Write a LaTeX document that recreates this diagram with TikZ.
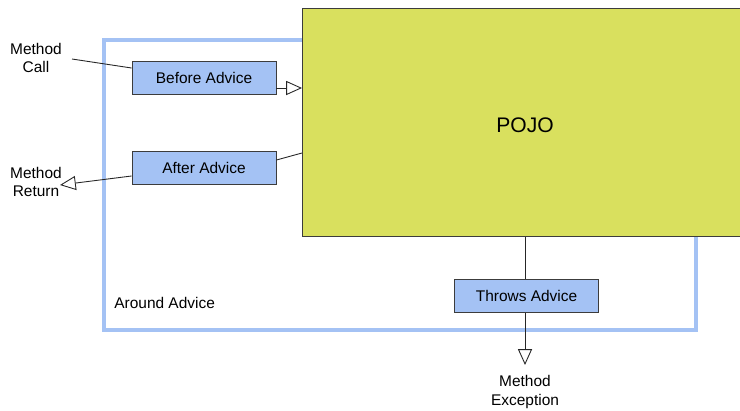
\documentclass[tikz,border=0pt]{standalone}
\usepackage{fontspec}
\setmainfont{Liberation Sans}
\usetikzlibrary{arrows.meta}
\definecolor{advblue}{RGB}{164,194,244}
\definecolor{aroundblue}{RGB}{164,194,244}
\definecolor{pojogreen}{RGB}{217,224,94}
\definecolor{edgegray}{RGB}{60,60,60}
\tikzset{
  px/.style={x=0.02cm,y=-0.02cm},
  advice/.style={draw=edgegray,fill=advblue,line width=0.5pt,minimum width=2.88cm,minimum height=0.66cm,inner sep=0pt,font=\fontsize{8.8}{10.5}\selectfont},
  lbl/.style={align=center,font=\fontsize{8.8}{10.5}\selectfont,inner sep=0pt},
  conn/.style={draw=black!85,line width=0.5pt},
  opentip/.style={-{Triangle[open,fill=white,width=8pt,length=9pt]}}
}
\begin{document}
\begin{tikzpicture}[px]
\useasboundingbox (0,0) rectangle (740,410);
\fill[white] (0,0) rectangle (740,410);
% around advice frame
\draw[aroundblue,line width=2.4pt] (104,40) rectangle (696,330);
\node[lbl,anchor=west] (around) at (114,303) {Around Advice};
% POJO
\node[draw=edgegray,fill=pojogreen,line width=0.6pt,minimum width=8.8cm,minimum height=4.56cm,inner sep=0pt,anchor=north west] (pojo) at (302,8) {};
\node[font=\fontsize{12}{14}\selectfont,inner sep=0pt] (pojolbl) at (525,125) {POJO};
% advice boxes
\node[advice] (before) at (204,78) {Before Advice};
\node[advice] (after) at (204,168) {After Advice};
\node[advice] (throws) at (526.5,296) {Throws Advice};
% labels
\node[lbl] (call) at (36,58) {Method\\Call};
\node[lbl] (ret) at (36,182) {Method\\Return};
\node[lbl] (exc) at (525,392) {Method\\Exception};
% coordinates
\coordinate (callend) at (72,59);
\coordinate (retend) at (60,185);
\coordinate (excend) at (525,365);
% connectors
\draw[conn] (callend) -- (before.north west |- 0,68) ;
\draw[conn,opentip] (before.east |- 0,88) -- (pojo.west |- 0,88);
\draw[conn] (pojo.west |- 0,153) -- (after.east |- 0,160);
\draw[conn,opentip] (after.west |- 0,176) -- (retend);
\draw[conn] (pojo.south -| 525,0) -- (throws.north -| 525,0);
\draw[conn,opentip] (throws.south -| 525,0) -- (excend);
\end{tikzpicture}
\end{document}
